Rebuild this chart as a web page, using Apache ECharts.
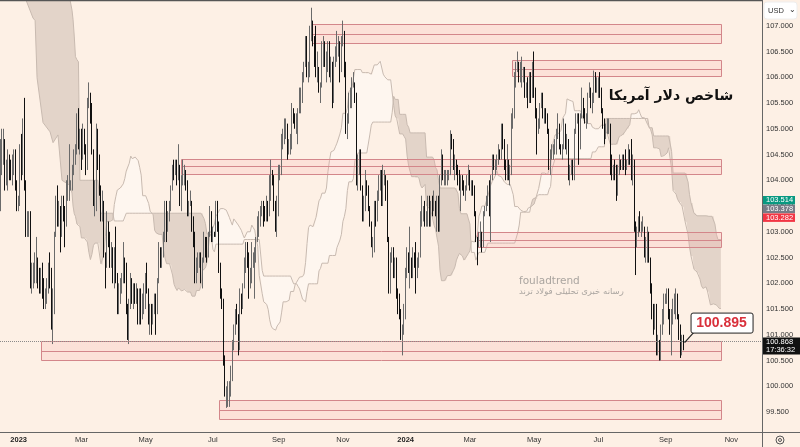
<!DOCTYPE html>
<html><head><meta charset="utf-8">
<script src="https://cdn.jsdelivr.net/npm/echarts/dist/echarts.min.js"></script>
<style>html,body{margin:0;padding:0;background:#fdf0e5;}#c{width:800px;height:447px;}</style>
</head><body><div id="c"></div>
<script>
// ---------- DATA ----------
// daily bars [open, high, low, close], one row per trading day starting 2022-12-15
const bars2022Dec = [[103.7,104.8,103.4,104.6],[104.6,105.0,104.1,104.7],[104.7,105.0,104.3,104.7],[104.7,104.8,103.8,104.0],[104.0,104.4,103.9,104.2],[104.2,104.6,103.8,104.4],[104.4,104.5,104.0,104.3],[104.3,104.4,104.0,104.2],[104.2,104.5,103.9,104.2],[104.2,104.6,104.1,104.5],[104.5,104.6,103.8,103.9],[103.9,104.0,103.4,103.5]];
const bars2023Q1 = [[103.5,103.7,103.4,103.5],[103.5,104.7,103.5,104.5],[104.5,104.9,104.0,104.2],[104.2,105.2,104.1,105.0],[105.0,105.6,103.8,103.9],[103.9,104.0,102.9,103.0],[103.0,103.4,102.9,103.2],[103.2,103.4,102.9,103.2],[103.2,103.4,101.9,102.2],[102.2,102.4,101.8,102.2],[102.2,102.4,101.9,102.2],[102.2,102.6,102.0,102.4],[102.4,102.9,102.0,102.4],[102.4,102.5,101.9,102.1],[102.1,102.3,101.8,102.0],[102.0,102.3,101.8,102.2],[102.2,102.4,101.7,101.9],[101.9,102.1,101.5,101.6],[101.6,101.9,101.5,101.8],[101.8,102.1,101.6,101.9],[101.9,102.4,101.8,102.3],[102.3,102.6,101.9,102.1],
[102.1,102.3,101.1,101.2],[101.2,101.9,100.82,101.8],[101.8,103.0,101.4,103.0],[103.0,103.7,102.9,103.6],[103.6,103.9,103.1,103.4],[103.4,103.6,103.1,103.4],[103.4,103.5,102.6,103.2],[103.2,103.7,102.9,103.6],[103.6,103.7,103.2,103.3],[103.3,103.5,102.7,103.2],[103.2,104.0,103.1,103.8],[103.8,104.1,103.6,103.9],[103.9,104.7,103.6,103.9],[103.9,104.0,103.8,103.9],[103.9,104.3,103.8,104.2],[104.2,104.6,104.1,104.5],[104.5,104.7,104.3,104.6],[104.6,105.3,104.5,105.2],[105.2,105.4,104.6,104.7],[104.7,105.0,104.5,104.9],
[104.9,105.0,104.2,104.4],[104.4,105.1,104.4,105.0],[105.0,105.0,104.5,104.5],[104.5,104.7,104.1,104.3],[104.3,105.6,104.2,105.6],[105.6,105.9,105.4,105.6],[105.6,105.7,105.1,105.3],[105.3,105.5,104.5,104.6],[104.6,104.6,103.5,103.6],[103.6,104.0,103.3,103.6],[103.6,105.1,103.4,104.6],[104.6,105.0,104.2,104.4],[104.4,104.5,103.7,103.8],[103.8,103.9,103.2,103.3],[103.3,103.8,103.2,103.6],[103.6,103.6,102.5,102.6],[102.6,102.6,101.9,102.4],[102.4,103.4,102.3,103.1],[103.1,103.2,102.7,102.9],[102.9,103.0,102.3,102.4],[102.4,102.8,102.3,102.6],[102.6,102.7,102.0,102.1],[102.1,102.7,101.9,102.5]];
const bars2023Q2 = [[102.5,103.1,102.0,102.1],[102.1,102.2,101.4,101.6],[101.6,102.0,101.4,101.9],[101.9,102.1,101.6,101.9],[101.9,102.2,101.8,102.1],[102.1,102.8,102.0,102.5],[102.5,102.5,102.0,102.2],[102.2,102.4,101.4,101.5],[101.5,101.6,100.9,101.0],[101.0,101.7,100.82,101.6],[101.6,102.2,101.5,102.1],[102.1,102.1,101.6,101.7],[101.7,102.0,101.5,101.9],[101.9,102.0,101.6,101.8],[101.8,102.0,101.6,101.8],[101.8,101.9,101.2,101.3],[101.3,101.9,101.2,101.8],[101.8,101.9,101.2,101.4],[101.4,101.8,101.3,101.5],[101.5,102.0,101.4,101.7],
[101.7,102.2,101.5,102.2],[102.2,102.4,101.8,101.9],[101.9,101.9,101.2,101.4],[101.4,101.6,101.0,101.4],[101.4,101.6,101.0,101.2],[101.2,101.6,101.2,101.4],[101.4,101.8,101.4,101.6],[101.6,101.8,101.0,101.5],[101.5,102.1,101.4,102.1],[102.1,102.8,102.0,102.7],[102.7,102.7,102.3,102.4],[102.4,102.7,102.3,102.6],[102.6,103.0,102.5,102.9],[102.9,103.6,102.8,103.6],[103.6,103.6,102.8,103.2],[103.2,103.4,103.0,103.2],[103.2,103.6,103.2,103.5],[103.5,103.9,103.4,103.9],[103.9,104.3,103.8,104.3],[104.3,104.4,104.0,104.2],[104.2,104.4,104.1,104.3],[104.3,104.4,103.9,104.1],[104.1,104.7,104.0,104.3],
[104.3,104.3,103.5,103.6],[103.6,104.1,103.4,104.0],[104.0,104.4,103.9,104.0],[104.0,104.3,103.9,104.1],[104.1,104.2,103.8,103.9],[103.9,104.0,103.3,103.4],[103.4,103.6,103.3,103.6],[103.6,103.8,103.5,103.6],[103.6,103.6,103.0,103.3],[103.3,103.3,102.7,102.9],[102.9,103.0,102.0,102.1],[102.1,102.5,102.0,102.3],[102.3,102.6,102.2,102.5],[102.5,102.6,102.3,102.5],[102.5,102.6,102.0,102.1],[102.1,102.5,101.9,102.4],[102.4,103.0,102.4,102.9],[102.9,102.9,102.5,102.7],[102.7,102.9,102.4,102.5],[102.5,103.0,102.5,103.0],[103.0,103.5,102.9,103.4],[103.4,103.4,102.8,103.0]];
const bars2023Q3 = [[103.0,103.1,102.8,103.0],[103.0,103.0,102.9,102.9],[102.9,103.6,102.9,103.4],[103.4,103.6,103.0,103.2],[103.2,103.2,102.2,102.3],[102.3,102.4,101.7,101.7],[101.7,101.9,101.5,101.6],[101.6,101.7,100.4,100.5],[100.5,100.6,99.8,99.8],[99.8,100.0,99.58,99.9],[99.9,100.1,99.6,99.9],[99.9,100.1,99.6,99.9],[99.9,100.4,99.8,100.2],[100.2,100.9,100.1,100.8],[100.8,101.2,100.7,101.1],[101.1,101.5,101.0,101.4],[101.4,101.6,101.2,101.3],[101.3,101.4,100.6,100.9],[100.9,101.9,100.7,101.8],[101.8,101.8,101.4,101.7],[101.7,102.0,101.5,102.0],
[102.0,102.5,101.9,102.3],[102.3,102.8,102.2,102.6],[102.6,102.8,102.3,102.5],[102.5,102.6,101.7,102.0],[102.0,102.3,101.9,102.1],[102.1,102.8,102.0,102.5],[102.5,102.6,102.3,102.5],[102.5,102.7,101.7,102.6],[102.6,102.9,102.4,102.8],[102.8,103.3,102.8,103.2],[103.2,103.4,102.9,103.2],[103.2,103.5,103.1,103.4],[103.4,103.6,103.3,103.6],[103.6,103.6,103.1,103.4],[103.4,103.5,103.2,103.3],[103.3,103.7,103.2,103.5],[103.5,103.6,103.2,103.4],[103.4,104.1,103.3,104.0],[104.0,104.4,103.6,104.1],[104.1,104.2,103.9,104.0],[104.0,104.1,103.4,103.5],[103.5,103.6,103.0,103.1],[103.1,103.7,102.9,103.6],
[103.6,104.3,103.3,104.2],[104.2,104.3,104.0,104.2],[104.2,104.9,104.1,104.8],[104.8,105.0,104.6,104.8],[104.8,105.2,104.7,105.1],[105.1,105.2,104.8,105.1],[105.1,105.1,104.4,104.6],[104.6,104.8,104.5,104.7],[104.7,104.9,104.5,104.8],[104.8,105.5,104.6,105.4],[105.4,105.4,105.1,105.3],[105.3,105.3,105.0,105.1],[105.1,105.3,104.9,105.2],[105.2,105.4,104.7,105.4],[105.4,105.8,105.3,105.4],[105.4,105.8,105.3,105.6],[105.6,106.1,105.5,106.0],[106.0,106.3,105.9,106.2],[106.2,106.8,106.2,106.6],[106.6,106.8,106.0,106.1],[106.1,106.3,105.9,106.2]];
const bars2023Q4 = [[106.2,107.0,106.0,106.9],[106.9,107.35,106.7,107.0],[107.0,107.1,106.6,106.8],[106.8,106.8,106.2,106.4],[106.4,107.0,106.0,106.1],[106.1,106.5,105.9,106.1],[106.1,106.2,105.7,105.8],[105.8,105.9,105.5,105.8],[105.8,106.7,105.8,106.6],[106.6,106.8,106.2,106.7],[106.7,106.7,106.2,106.2],[106.2,106.5,105.9,106.3],[106.3,106.7,106.1,106.6],[106.6,106.7,106.0,106.2],[106.2,106.4,105.9,106.2],[106.2,106.3,105.4,105.6],[105.6,106.4,105.5,106.3],[106.3,106.6,106.2,106.6],[106.6,106.9,106.3,106.6],[106.6,106.8,106.4,106.6],[106.6,106.7,105.9,106.1],[106.1,106.8,106.1,106.7],
[106.7,107.1,106.6,106.9],[106.9,106.9,106.0,106.2],[106.2,106.3,104.9,105.0],[105.0,105.3,104.8,105.2],[105.2,105.7,105.1,105.6],[105.6,105.8,105.4,105.6],[105.6,106.0,105.4,105.9],[105.9,106.1,105.8,105.9],[105.9,105.9,105.5,105.6],[105.6,105.7,103.9,104.1],[104.1,104.5,103.8,104.4],[104.4,104.6,104.1,104.4],[104.4,104.6,103.8,103.9],[103.9,103.9,103.2,103.4],[103.4,103.7,103.2,103.6],[103.6,104.2,103.4,103.9],[103.9,104.0,103.7,103.8],[103.8,103.9,103.4,103.4],[103.4,103.5,103.1,103.2],[103.2,103.2,102.7,102.8],[102.8,102.9,102.5,102.8],[102.8,103.6,102.6,103.5],
[103.5,103.6,103.1,103.3],[103.3,103.8,103.2,103.7],[103.7,104.1,103.6,104.0],[104.0,104.2,103.8,104.1],[104.1,104.2,103.5,103.6],[103.6,104.3,103.5,104.0],[104.0,104.2,103.9,104.1],[104.1,104.1,103.6,103.9],[103.9,104.0,102.8,102.9],[102.9,102.9,101.8,101.9],[101.9,102.6,101.8,102.6],[102.6,102.7,102.4,102.6],[102.6,102.7,102.1,102.2],[102.2,102.5,102.1,102.4],[102.4,102.5,101.7,101.8],[101.8,101.9,101.4,101.7],[101.7,101.8,101.3,101.4],[101.4,101.5,100.9,101.0],[101.0,101.2,100.6,101.2],[101.2,101.6,101.0,101.3]];
const bars2024Q1 = [[101.3,102.3,101.3,102.2],[102.2,102.7,102.1,102.5],[102.5,102.6,102.2,102.4],[102.4,103.1,101.9,102.4],[102.4,102.5,102.1,102.2],[102.2,102.7,102.1,102.6],[102.6,102.6,102.3,102.4],[102.4,102.8,101.8,102.3],[102.3,102.5,102.1,102.4],[102.4,102.6,102.3,102.5],[102.5,103.4,102.5,103.4],[103.4,103.7,103.1,103.4],[103.4,103.5,103.2,103.4],[103.4,103.6,103.1,103.3],[103.3,103.4,103.1,103.3],[103.3,103.7,103.1,103.6],[103.6,103.7,103.1,103.2],[103.2,103.6,103.1,103.6],[103.6,103.7,103.3,103.5],[103.5,103.8,103.4,103.6],[103.6,103.6,103.3,103.4],[103.4,103.7,103.0,103.6],
[103.6,103.7,103.0,103.1],[103.1,104.1,103.0,103.9],[103.9,104.6,103.9,104.4],[104.4,104.5,104.0,104.1],[104.1,104.2,103.9,104.1],[104.1,104.2,103.9,104.1],[104.1,104.2,103.9,104.1],[104.1,104.2,104.0,104.2],[104.2,104.97,104.1,104.9],[104.9,104.9,104.6,104.7],[104.7,104.8,104.2,104.3],[104.3,104.5,104.0,104.3],[104.3,104.4,104.1,104.2],[104.2,104.3,103.9,104.1],[104.1,104.2,103.8,103.9],[103.9,104.1,103.4,104.0],[104.0,104.1,103.8,103.9],[103.9,104.0,103.7,103.8],[103.8,103.9,103.6,103.8],[103.8,104.1,103.8,104.0],[104.0,104.3,103.9,104.2],
[104.2,104.2,103.8,103.9],[103.9,104.0,103.7,103.9],[103.9,104.0,103.7,103.8],[103.8,103.9,103.3,103.4],[103.4,103.4,102.8,102.8],[102.8,102.9,102.35,102.7],[102.7,103.0,102.7,102.9],[102.9,103.2,102.7,102.9],[102.9,103.0,102.6,102.8],[102.8,103.4,102.7,103.4],[103.4,103.5,103.3,103.4],[103.4,103.7,103.4,103.6],[103.6,103.9,103.5,103.8],[103.8,104.0,103.3,103.4],[103.4,104.1,102.8,104.0],[104.0,104.5,104.0,104.4],[104.4,104.5,104.2,104.3],[104.3,104.4,104.1,104.3],[104.3,104.5,104.2,104.4],[104.4,104.7,104.3,104.6],[104.6,104.6,104.4,104.5]];
const bars2024Q2 = [[104.5,105.1,104.4,105.0],[105.0,105.1,104.6,104.8],[104.8,104.8,104.2,104.3],[104.3,104.4,104.0,104.2],[104.2,104.7,104.0,104.3],[104.3,104.4,104.0,104.1],[104.1,104.3,103.9,104.1],[104.1,105.3,104.1,105.2],[105.2,105.4,105.0,105.3],[105.3,106.1,105.2,106.0],[106.0,106.3,105.8,106.2],[106.2,106.5,106.1,106.3],[106.3,106.3,105.9,106.0],[106.0,106.3,105.9,106.1],[106.1,106.4,105.8,106.1],[106.1,106.2,105.9,106.1],[106.1,106.2,105.6,105.7],[105.7,105.9,105.6,105.8],[105.8,106.0,105.4,105.6],[105.6,106.1,105.5,106.1],[106.1,106.1,105.5,105.6],[105.6,106.3,105.6,106.2],
[106.2,106.5,105.6,105.7],[105.7,105.8,105.2,105.3],[105.3,105.4,104.5,105.0],[105.0,105.2,104.9,105.1],[105.1,105.5,105.0,105.5],[105.5,105.7,105.4,105.6],[105.6,105.7,105.2,105.2],[105.2,105.4,105.1,105.3],[105.3,105.4,105.1,105.2],[105.2,105.3,104.9,105.0],[105.0,105.0,104.2,104.3],[104.3,104.6,104.1,104.5],[104.5,104.7,104.4,104.5],[104.5,104.7,104.4,104.6],[104.6,104.8,104.5,104.6],[104.6,105.0,104.5,104.9],[104.9,105.3,104.8,105.1],[105.1,105.1,104.6,104.7],[104.7,104.7,104.5,104.6],[104.6,104.7,104.4,104.6],[104.6,105.2,104.6,105.1],[105.1,105.1,104.6,104.7],[104.7,104.9,104.5,104.7],
[104.7,104.8,104.0,104.1],[104.1,104.3,103.9,104.3],[104.3,104.4,104.1,104.3],[104.3,104.4,104.0,104.1],[104.1,105.0,104.0,104.9],[104.9,105.3,104.9,105.2],[105.2,105.3,105.1,105.3],[105.3,105.3,104.3,104.7],[104.7,105.3,104.6,105.2],[105.2,105.8,105.2,105.5],[105.5,105.6,105.2,105.3],[105.3,105.4,105.1,105.2],[105.2,105.3,105.0,105.2],[105.2,105.7,105.1,105.6],[105.6,105.9,105.6,105.8],[105.8,105.8,105.4,105.5],[105.5,105.7,105.3,105.6],[105.6,106.13,105.5,106.0],[106.0,106.1,105.7,105.9],[105.9,106.0,105.7,105.9]];
const bars2024Q3 = [[105.9,106.0,105.6,105.9],[105.9,106.1,105.6,105.7],[105.7,105.8,105.3,105.4],[105.4,105.4,105.0,105.1],[105.1,105.2,104.7,104.9],[104.9,105.1,104.8,105.0],[105.0,105.2,104.9,105.1],[105.1,105.2,104.9,105.1],[105.1,105.1,104.1,104.4],[104.4,104.5,104.0,104.1],[104.1,104.3,104.0,104.3],[104.3,104.4,104.0,104.2],[104.2,104.3,103.6,103.7],[103.7,104.3,103.7,104.2],[104.2,104.5,104.1,104.4],[104.4,104.4,104.2,104.3],[104.3,104.5,104.2,104.5],[104.5,104.5,104.2,104.4],[104.4,104.6,104.1,104.3],[104.3,104.4,104.2,104.3],[104.3,104.7,104.3,104.6],[104.6,104.6,104.3,104.5],[104.5,104.8,104.0,104.1],
[104.1,104.5,103.9,104.4],[104.4,104.4,103.0,103.2],[103.2,103.2,102.16,102.7],[102.7,103.1,102.7,103.0],[103.0,103.3,102.9,103.2],[103.2,103.4,103.0,103.1],[103.1,103.2,102.9,103.1],[103.1,103.3,103.0,103.1],[103.1,103.1,102.5,102.6],[102.6,102.9,102.4,102.6],[102.6,103.1,102.4,103.0],[103.0,103.0,102.4,102.5],[102.5,102.5,101.8,101.9],[101.9,102.0,101.3,101.4],[101.4,101.6,101.0,101.1],[101.1,101.6,101.1,101.5],[101.5,101.6,100.6,100.7],[100.7,101.0,100.6,100.9],[100.9,100.9,100.5,100.55],[100.55,101.2,100.5,101.1],[101.1,101.5,101.0,101.3],[101.3,101.8,101.2,101.7],
[101.7,101.8,101.6,101.7],[101.7,101.9,101.6,101.8],[101.8,101.9,101.3,101.4],[101.4,101.5,101.0,101.1],[101.1,101.5,100.6,101.2],[101.2,101.7,101.2,101.6],[101.6,101.8,101.4,101.6],[101.6,101.9,101.3,101.6],[101.6,101.8,101.3,101.4],[101.4,101.4,100.9,101.1],[101.1,101.2,100.55,100.7],[100.7,101.0,100.6,100.9],[100.9,101.0,100.7,100.868]];

// Ichimoku cloud. Left part (bar positions before bar 50): [bar, span A, span B]
const cloudLeftX = [0,16.9,21.6,23,24.3,28.3,33,35,38.3,41,46.4,47.7,48.4,49.2];
const cloudLeftA = [108.6,107.5,107.15,107.1,105.99,105.12,104.94,104.73,104.88,104.0,103.9,103.75,103.5,103.35];
const cloudLeftB = [109.5,109.0,108.8,108.7,108.6,108.4,108.1,108.0,107.8,107.7,107.5,107.3,107.12,106.8];
// leading span A, one value per bar from bar 50 to bar 482
const spanAFrom50 = [103.30,103.15,103.15,103.10,102.88,102.88,102.88,102.88,102.80,102.60,102.46,102.56,102.73,102.78,102.78,102.78,102.78,102.38,102.36,102.56,102.91,103.20,103.20,103.20,103.23,
103.23,103.53,103.68,103.81,103.81,103.85,103.85,103.93,104.03,104.18,104.18,104.33,104.47,104.42,104.42,104.45,104.43,104.38,104.25,104.10,103.70,103.70,103.70,103.68,103.55,
103.40,103.38,103.33,103.03,102.98,102.95,102.95,102.95,102.95,102.65,102.48,102.38,102.38,102.38,102.36,102.16,101.98,101.91,101.86,101.91,101.88,101.85,101.88,101.88,101.88,
101.83,101.83,101.83,101.75,101.75,101.75,101.86,101.86,101.86,101.95,102.25,102.25,102.30,102.40,102.70,102.97,103.03,103.08,103.15,103.30,103.35,103.40,103.45,103.45,103.45,
103.42,103.42,103.42,103.28,103.20,103.13,103.25,103.22,103.17,103.13,103.08,103.03,102.95,102.88,102.88,103.00,103.00,103.00,103.13,103.08,103.03,102.85,102.72,102.15,102.15,
101.80,101.64,101.64,101.59,101.49,101.29,101.17,101.12,101.09,101.09,101.17,101.17,101.25,101.44,101.64,101.64,101.64,101.64,101.67,101.84,101.87,101.84,101.97,102.02,102.07,
102.12,102.12,102.13,102.18,102.40,102.77,103.08,103.13,103.13,103.10,103.10,103.28,103.30,103.60,103.65,103.75,103.75,103.75,103.85,104.17,104.38,104.55,104.58,104.58,104.65,
104.72,104.75,104.90,105.02,105.30,105.30,105.30,105.40,105.72,105.72,105.78,105.97,106.15,106.13,106.15,106.15,106.15,106.09,106.09,106.09,106.06,106.09,106.06,106.06,106.06,
106.24,106.24,106.24,106.26,106.31,106.31,106.06,106.01,106.01,105.95,105.95,105.95,105.95,105.45,105.25,105.20,105.20,104.90,104.90,104.90,104.85,104.80,104.47,104.28,104.17,
104.07,104.07,104.07,104.05,104.07,104.03,103.90,103.85,103.88,103.92,103.50,103.50,103.45,103.40,103.40,103.13,103.05,102.88,102.72,102.25,102.05,102.05,102.05,102.05,102.15,
102.15,102.15,102.15,102.25,102.32,102.45,102.52,102.58,102.55,102.53,102.45,102.45,102.53,102.58,102.63,102.82,102.82,102.80,102.80,102.95,103.30,103.38,103.50,103.50,103.50,
103.50,103.69,103.69,103.91,103.98,104.03,104.09,104.19,104.09,104.09,104.07,104.04,103.97,103.94,103.92,103.92,103.92,103.89,103.72,103.49,103.49,103.49,103.47,103.42,103.42,
103.39,103.39,103.40,103.46,103.49,103.49,103.51,103.54,103.64,103.64,103.84,103.84,104.14,104.14,104.14,104.14,104.11,104.21,104.26,104.61,104.77,104.88,104.88,104.90,104.93,
104.97,105.20,105.25,105.30,105.58,105.55,105.55,105.58,105.53,105.35,105.35,105.35,105.35,105.35,105.35,105.18,105.13,105.10,105.10,105.10,105.10,105.03,105.03,105.00,105.00,
105.00,105.00,105.07,105.07,105.07,104.95,104.90,104.88,104.70,104.68,104.70,104.70,104.70,104.70,104.85,104.88,104.88,104.88,104.95,105.00,105.00,105.08,105.29,105.29,105.29,
105.29,105.31,105.37,105.29,105.22,105.22,105.21,105.23,105.08,105.06,104.98,104.88,104.63,104.63,104.63,104.63,104.61,104.46,104.48,104.48,104.51,104.53,104.63,104.60,104.22,
103.80,103.80,103.73,103.63,103.58,103.58,103.50,103.48,103.20,103.19,102.95,102.70,102.53,102.53,102.27,102.27,102.22,102.20,102.08,101.95,101.90,101.93,101.93,101.85,101.83,
101.58,101.60,101.60,101.60,101.58,101.56,101.51,101.51];
// leading span B from bar 50: [bar where the level starts, level]; it stays flat until the next entry
const spanBLevels = [[50,106.4],[51,106.34],[52,106.3],[53,104.0],[66,103.68],[67,103.36],[76,103.21],[84,103.36],[136,103.26],[137,103.16],[138,102.96],[141,102.91],[142,102.66],[143,102.61],[144,102.76],[163,102.85],[174,102.55],[175,102.25],[176,102.14],[196,101.99],[199,101.94],[200,101.89],[201,101.79],[202,101.69],[204,101.64],[205,101.84],[206,101.99],[213,102.24],[214,102.29],[215,102.39],[220,102.54],[225,102.69],[227,102.84],[228,102.95],[229,103.20],[230,103.30],[231,103.45],[232,103.80],[233,103.97],[236,104.03],[237,104.38],[238,104.42],[239,104.53],[247,104.88],[248,105.07],[249,105.13],[262,105.32],[263,105.63],[264,105.57],[267,105.28],[272,105.08],[273,105.03],[274,104.92],[285,104.45],[290,104.40],[291,104.25],[292,104.20],[293,104.00],[294,103.85],[306,103.75],[307,103.45],[308,103.35],[313,103.25],[314,103.15],[315,102.60],[318,102.45],[320,102.60],[326,102.78],[346,102.98],[347,103.13],[348,103.38],[355,103.53],[356,103.63],[357,103.66],[360,103.72],[367,103.82],[368,103.88],[369,104.22],[370,104.32],[371,104.42],[396,104.55],[399,104.60],[400,104.65],[405,105.20],[434,105.02],[437,104.86],[449,104.56],[450,104.14],[460,103.97],[461,103.72],[462,103.56],[464,103.36],[466,103.31],[474,103.30],[478,103.15],[479,102.95],[480,102.85]];

// support / resistance zones: [first bar, last bar, top, middle, bottom]
const zones = [
  [208.3,482.1,107.025,106.84,106.66],
  [342.2,482.1,106.33,106.17,106.01],
  [120.6,482.1,104.41,104.27,104.12],
  [318.8,482.1,102.99,102.84,102.70],
  [26.9,482.1,100.87,100.69,100.51],
  [146.1,482.1,99.73,99.54,99.36]
];
const lastPrice = 100.868;
const calloutPrice = 100.895;
const yTicks = {min: 99, max: 107.5, step: 0.5};
const monthTickLabels = {'2023-01':'2023','2023-03':'Mar','2023-05':'May','2023-07':'Jul','2023-09':'Sep','2023-11':'Nov','2024-01':'2024','2024-03':'Mar','2024-05':'May','2024-07':'Jul','2024-09':'Sep','2024-11':'Nov'};
const tags = [['103.514','#089981'],['103.378','#787b86'],['103.282','#f23645']];

// ---------- BUILD ----------
const SLOTS = 510;
const dates = [];
(function(){
  let t = Date.UTC(2022,11,15);
  while (dates.length < SLOTS) {
    const d = new Date(t), wd = d.getUTCDay(), m = d.getUTCMonth(), day = d.getUTCDate();
    if (wd !== 0 && wd !== 6 && !((m === 11 && day === 25) || (m === 0 && day === 1))) dates.push(d.toISOString().slice(0,10));
    t += 86400000;
  }
})();
const allBars = [].concat(bars2022Dec, bars2023Q1, bars2023Q2, bars2023Q3, bars2023Q4, bars2024Q1, bars2024Q2, bars2024Q3);
const candleData = allBars.map(r => [r[0], r[3], r[2], r[1]]);
const lastIdx = allBars.length - 1;
const labelAt = {};
dates.forEach((d,i) => { if (i > 0 && d.slice(0,7) !== dates[i-1].slice(0,7) && monthTickLabels[d.slice(0,7)]) labelAt[i] = monthTickLabels[d.slice(0,7)]; });

const cloudX = cloudLeftX.slice(), spanA = cloudLeftA.slice(), spanB = cloudLeftB.slice();
spanAFrom50.forEach((a, k) => {
  const bar = 50 + k;
  let lvl = spanBLevels[0][1];
  for (const e of spanBLevels) { if (e[0] <= bar) lvl = e[1]; else break; }
  cloudX.push(bar); spanA.push(a); spanB.push(lvl);
});

const BG = '#fdf0e5';
const chart = echarts.init(document.getElementById('c'));

// one polygon per run of bullish / bearish cloud
function cloudRender(params, api) {
  const runs = [];
  let cur = null;
  for (let i = 0; i < cloudX.length; i++) {
    const p = {x: cloudX[i], a: spanA[i], b: spanB[i]};
    if (!cur) { cur = {s: Math.sign(p.a - p.b) || 1, pts: [p]}; continue; }
    const q = cur.pts[cur.pts.length - 1];
    const d0 = q.a - q.b, d1 = p.a - p.b;
    if (d0 * d1 < 0) {
      const t = d0 / (d0 - d1);
      const c = {x: q.x + t * (p.x - q.x), a: q.a + t * (p.a - q.a)}; c.b = c.a;
      cur.pts.push(c); runs.push(cur);
      cur = {s: Math.sign(d1), pts: [c, p]};
    } else {
      cur.pts.push(p);
    }
  }
  if (cur) runs.push(cur);
  const children = runs.map(r => {
    const pts = r.pts.map(p => api.coord([p.x, p.a])).concat(r.pts.slice().reverse().map(p => api.coord([p.x, p.b])));
    return {type: 'polygon', shape: {points: pts}, style: {fill: r.s < 0 ? 'rgba(205,190,178,0.55)' : 'rgba(255,255,255,0.4)'}};
  });
  return {type: 'group', children};
}
function zoneRender(params, api) {
  const z = zones[params.dataIndex];
  const tl = api.coord([z[0], z[2]]), br = api.coord([z[1], z[4]]);
  const ml = api.coord([z[0], z[3]]), mr = api.coord([z[1], z[3]]);
  const col = '#d3868a';
  return {type:'group', children:[
    {type:'rect', shape:{x:Math.round(tl[0])+0.5, y:Math.round(tl[1])+0.5, width:Math.round(br[0]-tl[0]), height:Math.round(br[1]-tl[1])}, style:{fill:'rgba(250,165,165,0.2)', stroke:col, lineWidth:1}},
    {type:'line', shape:{x1:Math.round(ml[0])+0.5, y1:Math.round(ml[1])+0.5, x2:Math.round(mr[0])+0.5, y2:Math.round(mr[1])+0.5}, style:{stroke:col, lineWidth:1}}
  ]};
}

const FONT = 'Liberation Sans, Arial, sans-serif';
chart.setOption({
  backgroundColor: BG,
  animation: false,
  grid: {left: 0, right: 38, top: 0, bottom: 9.2},
  xAxis: [
    {type:'category', data: dates, boundaryGap: true, offset: -6,
     axisLine:{show:false}, axisTick:{show:false}, splitLine:{show:false},
     axisLabel:{interval:(idx) => labelAt[idx] !== undefined, hideOverlap:false, margin:4, fontSize:7.5, color:'#333', fontFamily:FONT,
       formatter:(v, idx) => { const s = labelAt[idx] || ''; return /^\d{4}$/.test(s) ? '{y|' + s + '}' : s; },
       rich:{y:{fontWeight:'bold', fontSize:7.5, color:'#222', fontFamily:FONT}}}},
    {type:'value', min:-0.5, max:SLOTS-0.5, show:false}
  ],
  yAxis: {type:'value', position:'right', min:yTicks.min, max:yTicks.max, interval:yTicks.step,
    axisLine:{show:false}, axisTick:{show:false}, splitLine:{show:false},
    axisLabel:{showMinLabel:false, showMaxLabel:false, margin:4, fontSize:7.5, color:'#333', fontFamily:FONT, formatter:v => v.toFixed(3)}},
  series: [
    {type:'custom', name:'cloud', xAxisIndex:1, renderItem: cloudRender, data: [[cloudX[0], spanA[0]]], z:1, silent:true},
    {type:'line', name:'spanA', xAxisIndex:1, data: cloudX.map((x,i)=>[x, spanA[i]]), showSymbol:false, lineStyle:{color:'#c8bab0', width:1}, z:2, silent:true},
    {type:'line', name:'spanB', xAxisIndex:1, data: cloudX.map((x,i)=>[x, spanB[i]]), showSymbol:false, lineStyle:{color:'#c8bab0', width:1}, z:2, silent:true},
    {type:'custom', name:'zones', xAxisIndex:1, renderItem: zoneRender, data: zones.map(z=>[z[0], z[2]]), z:3, silent:true},
    {type:'candlestick', name:'DXY', data: candleData, barWidth: 1.2, z:4,
     itemStyle:{color:'#858585', color0:'#101010', borderColor:'#6a6a6a', borderColor0:'#101010', borderWidth:1},
     markLine:{silent:true, symbol:'none', label:{show:false}, lineStyle:{type:'dotted', color:'#8a8a8a', width:1},
       data:[{yAxis:lastPrice}]}}
  ]
});

const g = [];
g.push({type:'line', shape:{x1:0,y1:0.5,x2:762,y2:0.5}, style:{stroke:'#555', lineWidth:1.5}, z:100});
g.push({type:'line', shape:{x1:0,y1:432.5,x2:800,y2:432.5}, style:{stroke:'#666', lineWidth:1}, z:100});
g.push({type:'line', shape:{x1:762.5,y1:0,x2:762.5,y2:447}, style:{stroke:'#666', lineWidth:1}, z:100});
g.push({type:'rect', shape:{x:764,y:2,width:33,height:17,r:3}, style:{fill:'#ffffff', stroke:'#eee'}, z:100});
g.push({type:'text', style:{x:768,y:10.5,text:'USD',font:'7.5px '+FONT,fill:'#333',textVerticalAlign:'middle'}, z:101});
g.push({type:'text', style:{x:789,y:10,text:'⌄',font:'8px DejaVu Sans',fill:'#333',textVerticalAlign:'middle'}, z:101});
tags.forEach((t,k) => {
  const y = 196 + k*8.7;
  g.push({type:'rect', shape:{x:763,y:y,width:32,height:8.5}, style:{fill:t[1]}, z:100});
  g.push({type:'text', style:{x:766,y:y+4.4,text:t[0],font:'7.5px '+FONT,fill:'#fff',textVerticalAlign:'middle'}, z:101});
});
const lp = chart.convertToPixel({yAxisIndex:0}, lastPrice);
g.push({type:'rect', shape:{x:763,y:lp-4,width:37,height:17}, style:{fill:'#111'}, z:100});
g.push({type:'text', style:{x:766,y:lp+0.5,text:lastPrice.toFixed(3),font:'7.5px '+FONT,fill:'#fff',textVerticalAlign:'middle'}, z:101});
g.push({type:'text', style:{x:766,y:lp+8.5,text:'17:36:32',font:'7.5px '+FONT,fill:'#fff',textVerticalAlign:'middle'}, z:101});
g.push({type:'circle', shape:{cx:780,cy:440,r:4}, style:{fill:'none', stroke:'#555', lineWidth:1}, z:100});
g.push({type:'circle', shape:{cx:780,cy:440,r:1.5}, style:{fill:'none', stroke:'#555', lineWidth:1}, z:100});
const cp = chart.convertToPixel({xAxisIndex:0, yAxisIndex:0}, [lastIdx, lastPrice]);
const bx = cp[0] + 7, by = cp[1] - 29;
g.push({type:'line', shape:{x1:cp[0]+1, y1:cp[1]+1, x2:bx+3, y2:by+20}, style:{stroke:'#222', lineWidth:1.2}, z:102});
g.push({type:'rect', shape:{x:bx+0.5,y:by+0.5,width:62,height:20,r:2}, style:{fill:'#fff', stroke:'#222', lineWidth:1}, z:102});
g.push({type:'text', style:{x:bx+31,y:by+10.5,text:calloutPrice.toFixed(3),font:'bold 14px '+FONT,fill:'#d9303b',textAlign:'center',textVerticalAlign:'middle'}, z:103});
g.push({type:'text', style:{x:671,y:96,text:'شاخص دلار آمریکا',font:'bold 14px DejaVu Sans',fill:'#111',textAlign:'center',textVerticalAlign:'middle'}, z:103});
g.push({type:'text', style:{x:519,y:281,text:'fouladtrend',font:'10.5px DejaVu Sans',fill:'#aaa5a0',textVerticalAlign:'middle'}, z:103});
g.push({type:'text', style:{x:519,y:292,text:'رسانه خبری تحلیلی فولاد ترند',font:'8.5px DejaVu Sans',fill:'#aaa5a0',textVerticalAlign:'middle'}, z:103});
chart.setOption({graphic: g});
</script>
</body></html>
